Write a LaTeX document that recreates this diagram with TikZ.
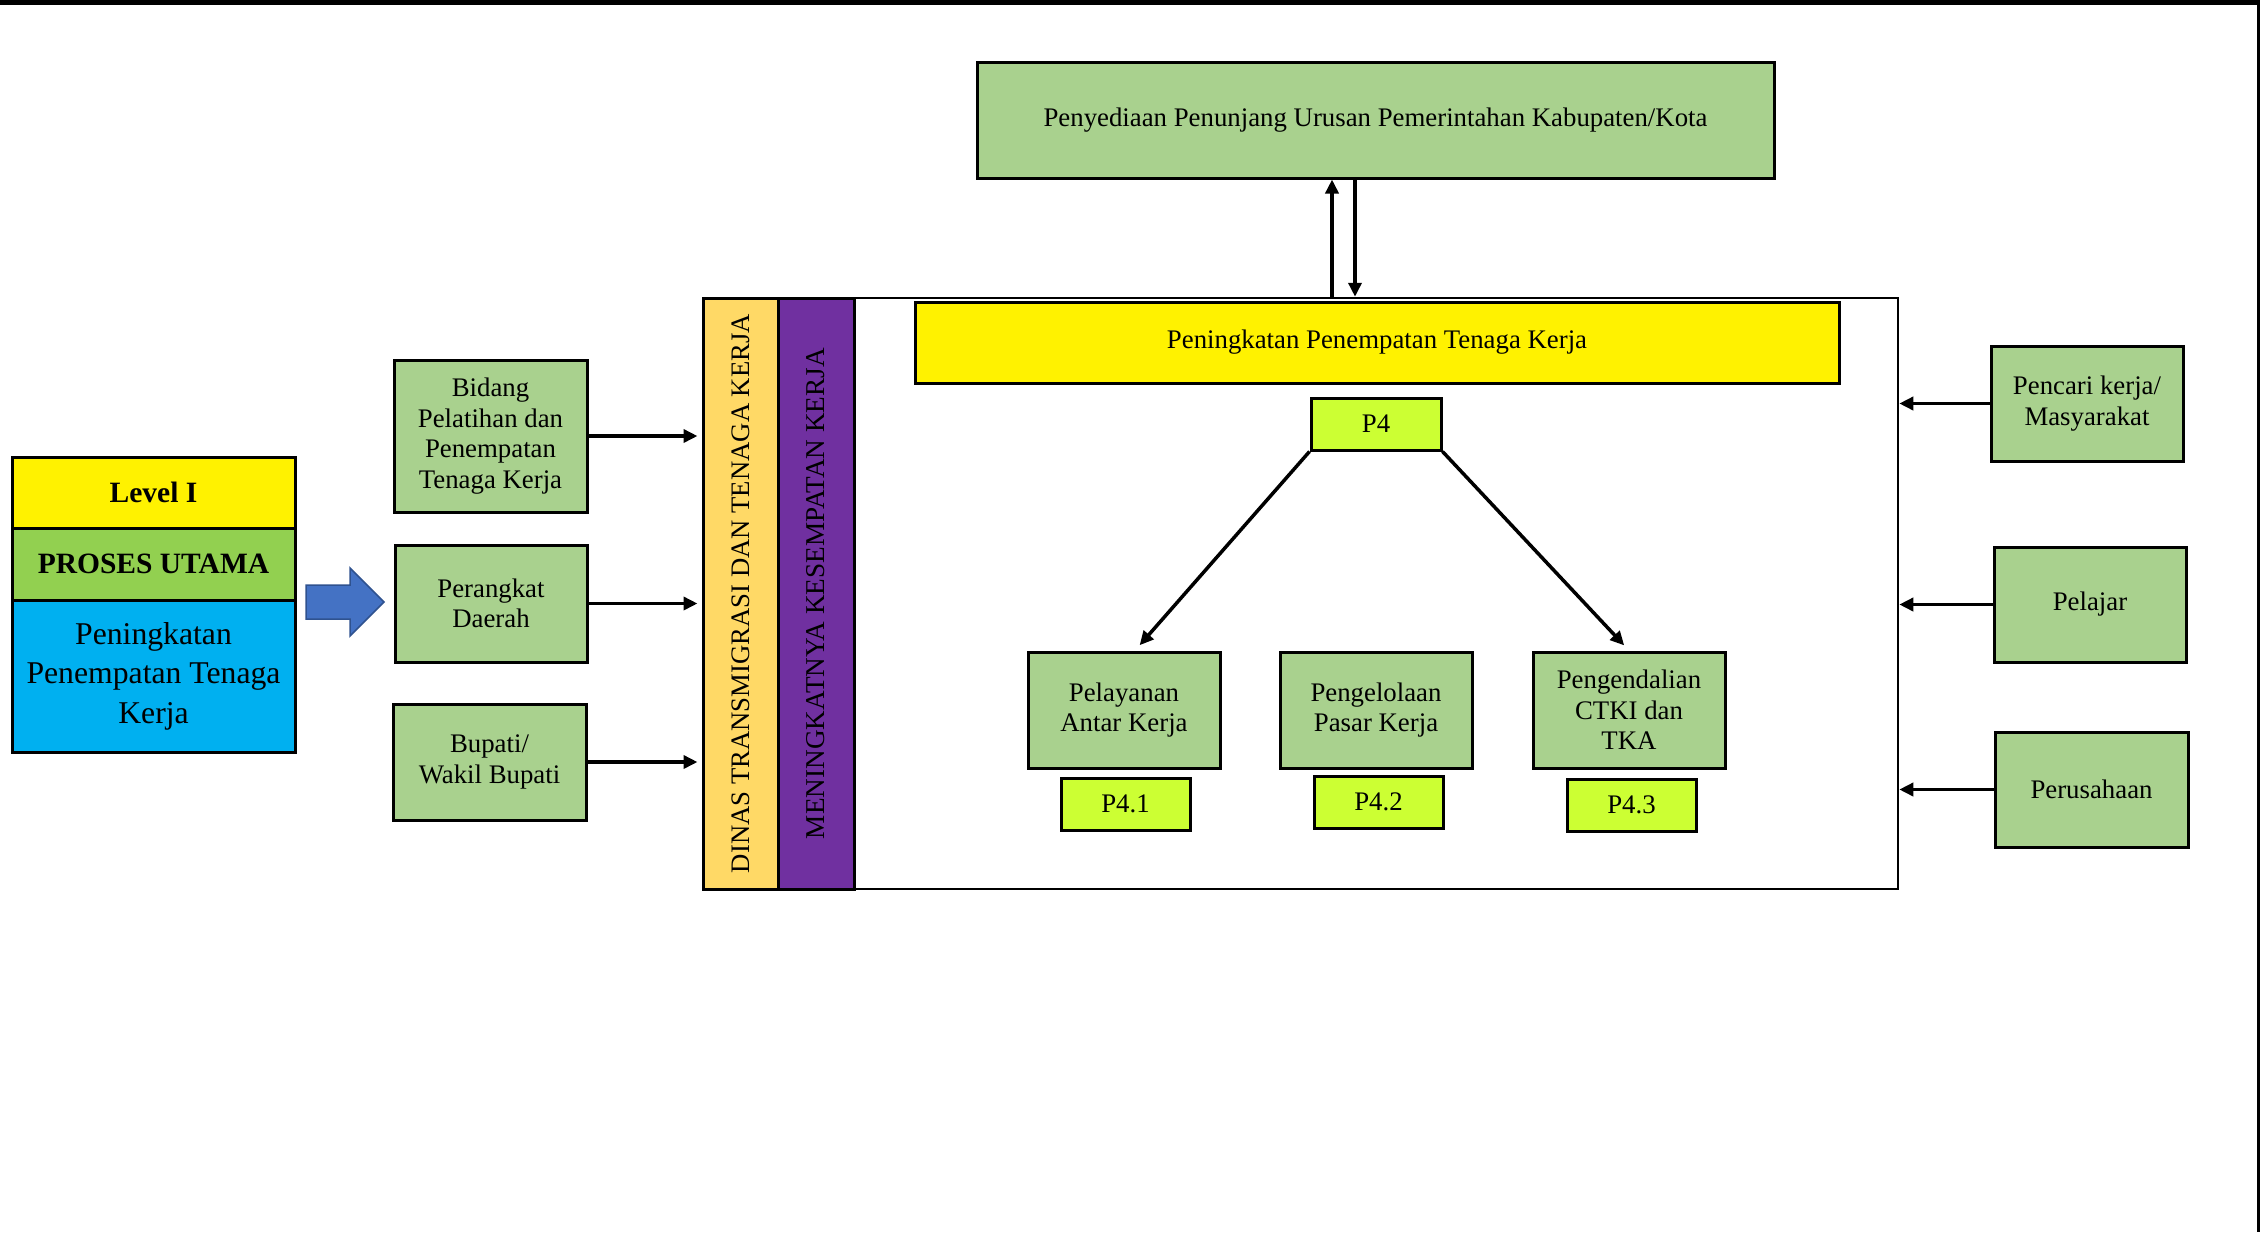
\documentclass[tikz,border=0pt]{standalone}
\usepackage{fontspec}
\setmainfont{Liberation Serif}
\usetikzlibrary{arrows.meta,calc}
\definecolor{boxgreen}{HTML}{A9D18E}
\definecolor{limeg}{HTML}{CCFF33}
\definecolor{ycolr}{HTML}{FFD966}
\definecolor{pcolr}{HTML}{7030A0}
\definecolor{skyb}{HTML}{00B0F0}
\definecolor{procg}{HTML}{92D050}
\definecolor{arrb}{HTML}{4472C4}
\definecolor{arrbd}{HTML}{2F528F}
\begin{document}
\begin{tikzpicture}[x=1pt,y=-1pt,
  bx/.style={draw=black,line width=3pt,inner sep=0pt,align=center,font=\fontsize{26.8}{30.5}\selectfont},
  gbox/.style={bx,fill=boxgreen,minimum width=192pt,minimum height=116pt},
  lbox/.style={bx,fill=limeg,minimum width=129pt,minimum height=52pt},
  arr/.style={line width=3.5pt,-{Triangle[length=14pt,width=13pt]}}]
\useasboundingbox (0,0) rectangle (2267,1232);
% page frame lines
\draw[line width=5pt] (0,2.5) -- (2259,2.5);
\draw[line width=3pt] (2258,0) -- (2258,1232);

% left stack
\node[bx,fill=yellow,minimum width=283pt,minimum height=71pt,font=\fontsize{29.5}{34}\selectfont\bfseries] (level) at (153.5,492.5) {Level I};
\node[bx,fill=procg,minimum width=283pt,minimum height=72pt,font=\fontsize{29.5}{34}\selectfont\bfseries] (proses) at (153.5,564) {PROSES UTAMA};
\node[bx,fill=skyb,minimum width=283pt,minimum height=152pt,font=\fontsize{31.7}{39.5}\selectfont] (blue) at (153.5,676) {Peningkatan\\Penempatan Tenaga\\Kerja};

% blue block arrow
\draw[draw=arrbd,fill=arrb,line width=1.5pt] (306,585) -- (350,585) -- (350,568) -- (384,602) -- (350,636) -- (350,619) -- (306,619) -- cycle;

% left boxes
\node[gbox,minimum width=193pt,minimum height=152pt] (bidang) at (490.5,436) {Bidang\\Pelatihan dan\\Penempatan\\Tenaga Kerja};
\node[gbox,minimum height=117pt] (perangkat) at (491,603.5) {Perangkat\\Daerah};
\node[gbox,minimum width=193pt] (bupati) at (489.5,762) {Bupati/\\Wakil Bupati};

% main box and columns
\node[bx,line width=2.5pt,minimum width=1195pt,minimum height=591pt] (main) at (1300.5,593.5) {};
\node[bx,fill=ycolr,minimum width=75pt,minimum height=591pt] (ycol) at (740.5,593.5) {};
\node[bx,fill=pcolr,minimum width=76pt,minimum height=591pt] (pcol) at (816,593.5) {};
\node[rotate=90,font=\fontsize{26.7}{30}\selectfont] at (ycol.center) {DINAS TRANSMIGRASI DAN TENAGA KERJA};
\node[rotate=90,font=\fontsize{27.2}{30}\selectfont] at (pcol.center) {MENINGKATNYA KESEMPATAN KERJA};

% top box
\node[bx,fill=boxgreen,minimum width=797pt,minimum height=116pt] (top) at (1375.5,120) {Penyediaan Penunjang Urusan Pemerintahan Kabupaten/Kota};

% banner
\node[bx,fill=yellow,minimum width=924pt,minimum height=81pt] (banner) at (1377,342.5) {Peningkatan Penempatan Tenaga Kerja};

% P4 and children
\node[lbox,minimum width=130pt] (p4) at (1376,424) {P4};
\node[gbox] (c1) at (1124,710) {Pelayanan\\Antar Kerja};
\node[gbox] (c2) at (1376,710) {Pengelolaan\\Pasar Kerja};
\node[gbox] (c3) at (1629,710) {Pengendalian\\CTKI dan\\TKA};
\node[lbox] (p41) at (1125.5,804) {P4.1};
\node[lbox] (p42) at (1378.5,802) {P4.2};
\node[lbox] (p43) at (1631.5,805) {P4.3};

% right boxes
\node[gbox,minimum height=115pt] (pencari) at (2087,403.5) {Pencari kerja/\\Masyarakat};
\node[gbox,minimum height=115pt] (pelajar) at (2090,604.5) {Pelajar};
\node[gbox,minimum width=193pt,minimum height=115pt] (perusahaan) at (2091.5,789.5) {Perusahaan};

% connectors
\draw[arr,shorten >=4pt] (bidang.east) -- (bidang.east -| ycol.west);
\draw[arr,shorten >=4pt] (perangkat.east) -- (perangkat.east -| ycol.west);
\draw[arr,shorten >=4pt] (bupati.east) -- (bupati.east -| ycol.west);
\draw[arr] (pencari.west) -- (pencari.west -| main.east);
\draw[arr] (pelajar.west) -- (pelajar.west -| main.east);
\draw[arr] (perusahaan.west) -- (perusahaan.west -| main.east);
\draw[arr] (main.north -| 1332,0) -- (top.south -| 1332,0);
\draw[arr] (top.south -| 1355,0) -- (main.north -| 1355,0);
\draw[arr,shorten >=7pt] (p4.south west) -- ($(c1.north)+(11,0)$);
\draw[arr,shorten >=7pt] (p4.south east) -- (c3.north);
\end{tikzpicture}
\end{document}
